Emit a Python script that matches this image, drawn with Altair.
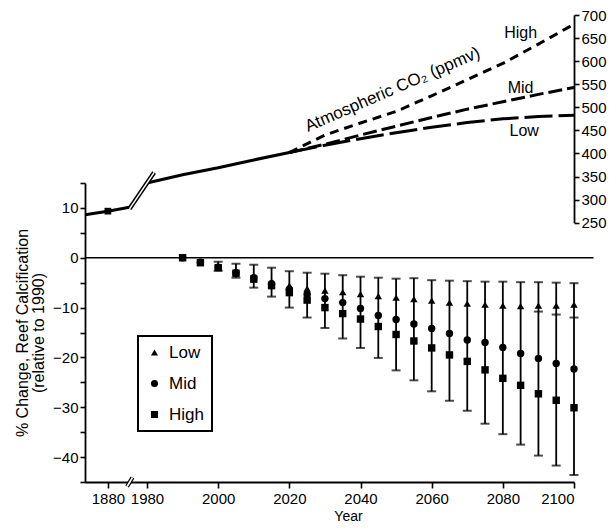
import altair as alt
import pandas as pd

# ---------------- data ----------------
years = [1990, 1995, 2000, 2005, 2010, 2015, 2020, 2025, 2030, 2035, 2040, 2045,
         2050, 2055, 2060, 2065, 2070, 2075, 2080, 2085, 2090, 2095, 2100]
calc_low = [0, -0.9, -1.9, -2.9, -3.8, -4.8, -5.6, -6.2, -6.6, -6.9, -7.3, -7.7,
            -8.0, -8.3, -8.6, -9.0, -9.2, -9.4, -9.6, -9.7, -9.6, -9.6, -9.4]
calc_mid = [0, -0.9, -1.9, -3.0, -4.0, -5.2, -6.3, -7.3, -8.2, -9.0, -10.2, -11.6,
            -12.4, -13.3, -14.2, -15.2, -16.5, -17.0, -18.0, -19.2, -20.2, -21.2, -22.3]
calc_high = [0, -1.0, -2.0, -3.1, -4.3, -5.6, -7.0, -8.5, -10.0, -11.2, -12.3, -13.8,
             -15.4, -16.7, -18.1, -19.5, -20.8, -22.5, -24.2, -25.6, -27.3, -28.6, -30.1]

err_years = years[2:]
err_top = [-0.8, -1.2, -1.4, -2.0, -2.7, -3.0, -3.2, -3.5, -3.8, -4.0, -4.2,
           -4.1, -4.5, -4.6, -4.7, -4.8, -4.8, -4.9, -4.9, -5.0, -5.1]
err_bottom = [-2.6, -4.0, -6.0, -7.8, -10.0, -12.0, -14.1, -16.2, -18.1, -20.1, -22.6,
              -24.6, -26.8, -28.7, -30.7, -33.3, -35.4, -37.5, -39.7, -41.7, -43.6]
mid_cap_years = [2090, 2095, 2100]
mid_cap_vals = [-10.8, -11.4, -12.0]

hist_years = [1860, 1880, 1900]
hist_co2 = [267, 275, 284]
marker_year = [1880]
marker_co2 = [275]
obs_years = [1980, 1990, 2000, 2010, 2020]
obs_co2 = [336, 354, 369, 386, 402]
scen_years = [2020, 2030, 2040, 2050, 2060, 2070, 2080, 2090, 2100]
co2_high = [402, 440, 466, 491, 525, 560, 595, 637, 680]
co2_mid = [402, 420, 440, 459, 478, 496, 512, 528, 543]
co2_low = [402, 418, 432, 445, 457, 467, 475, 480, 483]

break_years = [1899, 1982]
break_co2 = [280, 359]
axis_break_years = [1896.9, 1901.6]
axis_break_vals = [-45.9, -44.1]
zero_span = [1962.57, 2105.5]

scen_label_text = ["High", "Mid", "Low"]
scen_label_years = [2085, 2085, 2086]
scen_label_co2 = [661, 542, 449]
co2_title_text = ["Atmospheric CO\u2082 (ppmv)"]
co2_title_year = [2049]
co2_title_co2 = [538]

x_tick_years = [1880, 1980, 2000, 2020, 2040, 2060, 2080, 2100]
calc_ticks = [-45, -40, -35, -30, -25, -20, -15, -10, -5, 0, 5, 10, 15]
co2_ticks = [250, 300, 350, 400, 450, 500, 550, 600, 650, 700]

# ---------------- broken time axis ----------------
def t_of(y):
    return 1969 + (y - 1880) * 0.32 if y < 1980 else y

T_EXPR = "datum.year < 1980 ? 1969 + (datum.year - 1880) * 0.32 : datum.year"
FONT = "Liberation Sans"

x_scale = alt.Scale(domain=[1962.57, 2100], nice=False, zero=False)
x_axis = alt.Axis(values=[t_of(v) for v in x_tick_years], format="d",
                  labelExpr="datum.value < 1975 ? '1880' : format(datum.value, 'd')",
                  tickSize=6, labelPadding=3, title="Year",
                  titleX=263, titleY=38, titleBaseline="alphabetic",
                  titleAnchor="start", titleAlign="center", titleFontSize=14)

def X(field="t:Q"):
    return alt.X(field, scale=x_scale, axis=x_axis)

calc_scale = alt.Scale(domain=[-45, 15], range=[474, 175], nice=False, zero=False)
calc_axis = alt.Axis(values=calc_ticks, tickSize=5, labelPadding=2,
                     labelExpr="datum.value % 10 == 0 ? datum.label : ''",
                     title=["% Change, Reef Calcification", "(relative to 1990)"],
                     titleFontSize=16, titleLineHeight=16, titlePadding=6)

def YC(field):
    return alt.Y(field, scale=calc_scale, axis=calc_axis)

co2_scale = alt.Scale(domain=[250, 700], range=[214.7, 7], nice=False, zero=False)
co2_axis = alt.Axis(orient="right", offset=0, values=co2_ticks, tickSize=5,
                    labelPadding=2, title=None)

def YP(field):
    return alt.Y(field, scale=co2_scale, axis=co2_axis)

# ---------------- tables ----------------
calc_df = pd.DataFrame({
    "year": years * 3,
    "scenario": ["Low"] * len(years) + ["Mid"] * len(years) + ["High"] * len(years),
    "value": calc_low + calc_mid + calc_high,
})
err_df = pd.DataFrame({"year": err_years, "top": err_top, "bottom": err_bottom})
cap_df = pd.DataFrame({
    "year": err_years + err_years + mid_cap_years,
    "value": err_top + err_bottom + mid_cap_vals,
})
zero_df = pd.DataFrame({"start": [zero_span[0]], "end": [zero_span[1]], "value": [0]})
axis_break_df = pd.DataFrame({"year": axis_break_years, "value": axis_break_vals})

solid_df = pd.DataFrame({
    "year": hist_years + obs_years,
    "ppm": hist_co2 + obs_co2,
    "seg": ["hist"] * len(hist_years) + ["obs"] * len(obs_years),
})
marker_df = pd.DataFrame({"year": marker_year, "ppm": marker_co2})
break_df = pd.DataFrame({"year": break_years, "ppm": break_co2})
scen_df = {
    "High": pd.DataFrame({"year": scen_years, "ppm": co2_high}),
    "Mid": pd.DataFrame({"year": scen_years, "ppm": co2_mid}),
    "Low": pd.DataFrame({"year": scen_years, "ppm": co2_low}),
}
dashes = {"High": [9, 6], "Mid": [14, 5], "Low": [28, 6]}
scen_label_df = pd.DataFrame({"year": scen_label_years, "ppm": scen_label_co2,
                              "label": scen_label_text})
co2_title_df = pd.DataFrame({"year": co2_title_year, "ppm": co2_title_co2,
                             "label": co2_title_text})

def base(df):
    return alt.Chart(df).transform_calculate(t=T_EXPR)

# ---------------- calcification panel ----------------
zero_line = alt.Chart(zero_df).mark_rule(color="black", strokeWidth=1.6).encode(
    x=X("start:Q"), x2="end:Q", y=YC("value:Q"))
bars = base(err_df).mark_rule(color="black", strokeWidth=1.8).encode(
    x=X(), y=YC("top:Q"), y2="bottom:Q")
caps = base(cap_df).mark_tick(color="black", orient="horizontal", size=9,
                              thickness=2).encode(x=X(), y=YC("value:Q"))
points = base(calc_df).mark_point(filled=True, size=55, opacity=1, color="black").encode(
    x=X(), y=YC("value:Q"),
    shape=alt.Shape("scenario:N",
                    scale=alt.Scale(domain=["Low", "Mid", "High"],
                                    range=["triangle-up", "circle", "square"]),
                    legend=alt.Legend(title=None, orient="none", legendX=53, legendY=328,
                                      strokeColor="black", padding=8,
                                      labelFont=FONT, labelFontSize=17, labelColor="black",
                                      symbolSize=50, symbolFillColor="black",
                                      symbolStrokeColor="black", symbolStrokeWidth=0,
                                      rowPadding=13, labelOffset=6)))
ab_black = base(axis_break_df).mark_line(color="black", strokeWidth=4.2).encode(
    x=X(), y=YC("value:Q"))
ab_white = base(axis_break_df).mark_line(color="white", strokeWidth=1.6).encode(
    x=X(), y=YC("value:Q"))

calc_layer = alt.layer(zero_line, bars, caps, points, ab_black, ab_white)

# ---------------- CO2 panel ----------------
solid = base(solid_df).mark_line(color="black", strokeWidth=3).encode(
    x=X(), y=YP("ppm:Q"), detail="seg:N")
hist_marker = base(marker_df).mark_point(shape="square", filled=True, size=45,
                                         opacity=1, color="black").encode(
    x=X(), y=YP("ppm:Q"))
brk_black = base(break_df).mark_line(color="black", strokeWidth=4.5).encode(
    x=X(), y=YP("ppm:Q"))
brk_white = base(break_df).mark_line(color="white", strokeWidth=1.5).encode(
    x=X(), y=YP("ppm:Q"))
scen_lines = [
    base(scen_df[k]).mark_line(color="black", strokeWidth=3, strokeDash=dashes[k]).encode(
        x=X(), y=YP("ppm:Q"))
    for k in ["High", "Mid", "Low"]
]
scen_labels = base(scen_label_df).mark_text(font=FONT, fontSize=16, color="black").encode(
    x=X(), y=YP("ppm:Q"), text="label:N")
co2_title = base(co2_title_df).mark_text(font=FONT, fontSize=17, color="black",
                                         angle=336.5).encode(
    x=X(), y=YP("ppm:Q"), text="label:N")

co2_layer = alt.layer(solid, hist_marker, brk_black, brk_white, *scen_lines,
                      scen_labels, co2_title)

chart = alt.layer(calc_layer, co2_layer).resolve_scale(y="independent").properties(
    width=489, height=474,
    autosize=alt.AutoSizeParams(type="none"),
    padding={"left": 77, "top": 0, "right": 34, "bottom": 41},
).configure_axis(
    labelFont=FONT, labelFontSize=15, labelColor="black",
    titleFont=FONT, titleFontSize=16, titleFontWeight="normal", titleColor="black",
    domainColor="black", domainWidth=1.8, tickColor="black", tickWidth=1.6, grid=False,
).configure_legend(strokeWidth=2).configure_view(stroke=None)

chart.save("out.html", embed_options={"renderer": "svg", "actions": False})
